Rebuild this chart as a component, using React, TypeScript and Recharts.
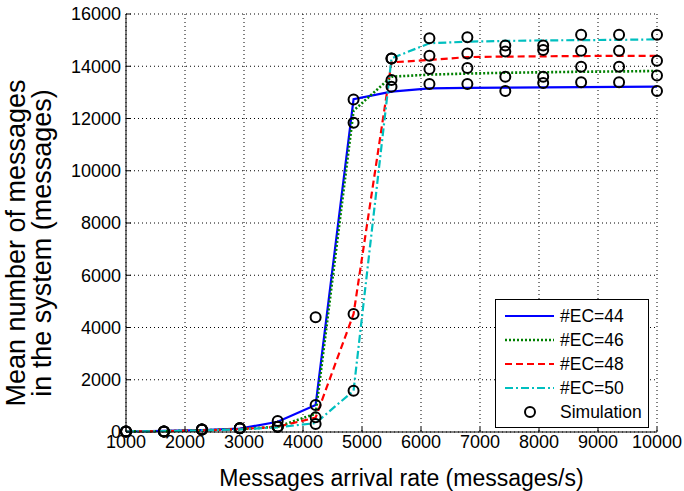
import {
  CartesianGrid,
  ComposedChart,
  Line,
  Scatter,
  XAxis,
  YAxis,
} from 'recharts'

const rates = [1000, 1643, 2286, 2929, 3571, 4214, 4857, 5500, 6143, 6786, 7429, 8071, 8714, 9357, 10000]

// analytical model, one array per number of ECs
const ec44 = [20, 40, 70, 130, 390, 1030, 12740, 13030, 13150, 13170, 13180, 13190, 13200, 13210, 13220]
const ec46 = [20, 30, 60, 110, 200, 700, 12300, 13600, 13680, 13720, 13750, 13770, 13790, 13800, 13820]
const ec48 = [20, 30, 60, 110, 200, 550, 4517, 14150, 14240, 14350, 14370, 14380, 14390, 14400, 14400]
const ec50 = [20, 30, 60, 100, 180, 340, 1580, 14300, 14880, 14940, 14970, 14990, 15000, 15010, 15030]

// simulation runs
const sim44 = [20, 20, 100, 140, 420, 1030, 12730, 13220, 13320, 13320, 13050, 13360, 13390, 13390, 13050]
const sim46 = [20, 20, 100, 140, 200, 4390, 11840, 13470, 13895, 13930, 13600, 13600, 13980, 13980, 13650]
const sim48 = [20, 20, 100, 140, 200, 560, 4517, 14300, 14400, 14490, 14560, 14620, 14590, 14590, 14210]
const sim50 = [20, 20, 100, 140, 200, 306, 1580, 14300, 15070, 15110, 14790, 14790, 15210, 15210, 15210]

const xTicks = [1000, 2000, 3000, 4000, 5000, 6000, 7000, 8000, 9000, 10000]
const yTicks = [0, 2000, 4000, 6000, 8000, 10000, 12000, 14000, 16000]

const series = [
  { key: 'ec44', name: '#EC=44', color: '#0000ff', dash: undefined, width: 2.2 },
  { key: 'ec46', name: '#EC=46', color: '#008000', dash: '2 2', width: 2.6 },
  { key: 'ec48', name: '#EC=48', color: '#ff0000', dash: '7 4', width: 2.2 },
  { key: 'ec50', name: '#EC=50', color: '#00bfbf', dash: '8 3 2 3', width: 2.2 },
]

const modelRows = rates.map((rate, i) => ({
  rate,
  ec44: ec44[i],
  ec46: ec46[i],
  ec48: ec48[i],
  ec50: ec50[i],
}))

const simRows = [sim44, sim46, sim48, sim50].flatMap((runs) =>
  runs.map((value, i) => ({ rate: rates[i], value })),
)

const font = '"Liberation Sans", Arial, sans-serif'

function Ring(props: any) {
  const { cx, cy } = props
  return <circle cx={cx} cy={cy} r={5} fill="none" stroke="#000" strokeWidth={2} />
}

function YTitle() {
  return (
    <text
      transform="translate(0, 243) rotate(-90)"
      textAnchor="middle"
      fontSize={27}
      fontFamily={font}
      fill="#000"
    >
      <tspan x={0} y={25}>Mean number of messages</tspan>
      <tspan x={0} y={51}>in the system (messages)</tspan>
    </text>
  )
}

function LegendBox() {
  return (
    <div
      style={{
        position: 'absolute',
        left: 495,
        top: 299,
        width: 152,
        height: 123,
        border: '1px solid #000',
        background: '#fff',
        fontFamily: font,
        fontSize: 17.5,
        paddingTop: 4,
        boxSizing: 'content-box',
      }}
    >
      {series.map((s) => (
        <div key={s.key} style={{ display: 'flex', alignItems: 'center', height: 24 }}>
          <svg width={64} height={24}>
            <line
              x1={9}
              x2={58}
              y1={12}
              y2={12}
              stroke={s.color}
              strokeWidth={s.width}
              strokeDasharray={s.dash}
            />
          </svg>
          <span>{s.name}</span>
        </div>
      ))}
      <div style={{ display: 'flex', alignItems: 'center', height: 24 }}>
        <svg width={64} height={24}>
          <circle cx={34} cy={12} r={5} fill="none" stroke="#000" strokeWidth={2} />
        </svg>
        <span>Simulation</span>
      </div>
    </div>
  )
}

export default function App() {
  return (
    <div style={{ position: 'absolute', left: 0, top: 0, width: 684, height: 491, background: '#fff' }}>
      <ComposedChart
        width={684}
        height={491}
        data={modelRows}
        margin={{ top: 14, right: 27, bottom: 0, left: 0 }}
      >
        <CartesianGrid stroke="#000" strokeDasharray="1 3" strokeWidth={1} />
        <XAxis
          dataKey="rate"
          type="number"
          domain={[1000, 10000]}
          ticks={xTicks}
          height={59}
          stroke="#000"
          tickSize={-5}
          tickMargin={8}
          tick={{ fill: '#000', fontSize: 18, fontFamily: font }}
          label={{
            value: 'Messages arrival rate (messages/s)',
            position: 'insideBottom',
            offset: 5,
            dx: 10,
            fill: '#000',
            fontSize: 23,
            fontFamily: font,
          }}
        />
        <XAxis
          xAxisId="top"
          orientation="top"
          dataKey="rate"
          type="number"
          domain={[1000, 10000]}
          ticks={xTicks}
          height={0}
          stroke="#000"
          tickSize={-5}
          tick={false}
        />
        <YAxis
          type="number"
          domain={[0, 16000]}
          ticks={yTicks}
          width={126}
          stroke="#000"
          tickSize={-5}
          tickMargin={10}
          tick={{ fill: '#000', fontSize: 18, fontFamily: font }}
          label={{ content: () => <YTitle /> }}
        />
        <YAxis
          yAxisId="right"
          orientation="right"
          type="number"
          domain={[0, 16000]}
          ticks={yTicks}
          width={0}
          stroke="#000"
          tickSize={-5}
          tick={false}
        />
        {series.map((s) => (
          <Line
            key={s.key}
            dataKey={s.key}
            type="linear"
            stroke={s.color}
            strokeWidth={s.width}
            strokeDasharray={s.dash}
            dot={false}
            activeDot={false}
            isAnimationActive={false}
          />
        ))}
        <Scatter
          data={simRows}
          dataKey="value"
          shape={<Ring />}
          isAnimationActive={false}
        />
      </ComposedChart>
      <LegendBox />
    </div>
  )
}
